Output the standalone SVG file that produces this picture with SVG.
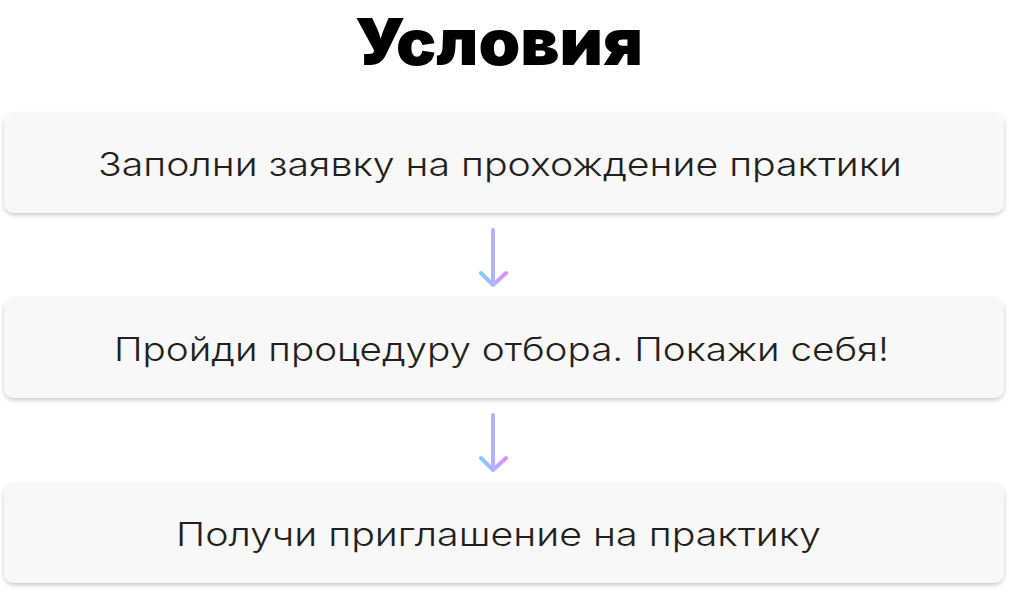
<svg xmlns="http://www.w3.org/2000/svg" width="1009" height="593" viewBox="0 0 1009 593">
<style>
.box{fill:#f8f8f8;filter:url(#sh)}
.lbl{font-family:Inter,"Noto Sans",sans-serif;font-size:33px;font-weight:300;fill:#231f20;text-anchor:middle;letter-spacing:0}
.title{font-family:Inter,"Noto Sans",sans-serif;font-size:64px;font-weight:900;fill:#000;text-anchor:middle}
.arr{fill:none;stroke:url(#g);stroke-width:4;stroke-linecap:round;stroke-linejoin:round}
</style>
<defs>
<filter id="sh" x="-5%" y="-20%" width="110%" height="150%">
<feDropShadow dx="0" dy="2" stdDeviation="2" flood-color="#000" flood-opacity="0.22"/>
</filter>
<linearGradient id="g" x1="480" y1="0" x2="507" y2="0" gradientUnits="userSpaceOnUse">
<stop offset="0" stop-color="#7fcbff"/>
<stop offset="0.5" stop-color="#b3b3ff"/>
<stop offset="1" stop-color="#e887ff"/>
</linearGradient>
</defs>
<rect width="1009" height="593" fill="#fff"/>
<text class="title" x="499" y="65" textLength="288" lengthAdjust="spacingAndGlyphs">Условия</text>
<g id="n1">
<rect class="box" x="4" y="113" width="1000" height="100" rx="10"/>
<text class="lbl" x="500" y="176" textLength="804" lengthAdjust="spacingAndGlyphs">Заполни заявку на прохождение практики</text>
</g>
<g id="n2">
<rect class="box" x="4" y="298" width="1000" height="100" rx="10"/>
<text class="lbl" x="501.5" y="361" textLength="775" lengthAdjust="spacingAndGlyphs">Пройди процедуру отбора. Покажи себя!</text>
</g>
<g id="n3">
<rect class="box" x="4" y="483" width="1000" height="100" rx="10"/>
<text class="lbl" x="498.5" y="546" textLength="645" lengthAdjust="spacingAndGlyphs">Получи приглашение на практику</text>
</g>
<g id="connectors">
<path class="arr" d="M493 230V284M481 273L493 285L506 273"/>
<path class="arr" d="M493 415V469M481 458L493 470L506 458"/>
</g>
</svg>
